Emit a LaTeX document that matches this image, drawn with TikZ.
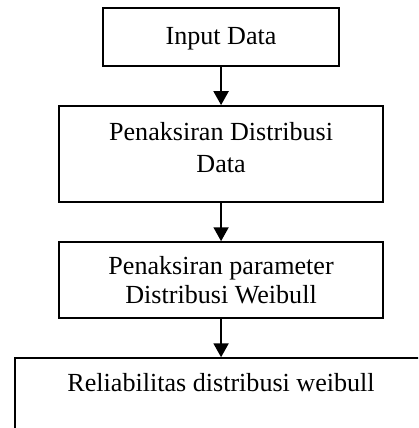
\documentclass[tikz,border=0pt]{standalone}
\usepackage{fontspec}
\setmainfont{Liberation Serif}
\usepackage{xcolor}
\usepackage{tikz}
\usetikzlibrary{arrows.meta,positioning}

\begin{document}
\begin{tikzpicture}[->,>={Triangle[length=6.4pt,width=6.9pt]},line width=0.9pt,node distance=17.5pt,font=\fontsize{12}{13}\selectfont]
  \tikzstyle{box}=[draw,rectangle,align=center,inner sep=2pt,minimum width=149pt]

  \useasboundingbox (0,0) rectangle (192.3pt,-196.9pt);
  \clip (0,0) rectangle (192.3pt,-196.9pt);

  \node[box,minimum width=108.6pt,minimum height=26.7pt,text height=9.5pt]	(input)	at (101.7pt,-17.05pt)	{Input Data};
  \node[box,minimum height=44.2pt,text depth=6pt]	(distdata)	[below=of input]	{Penaksiran Distribusi\\[1.6pt]Data};
  \node[box,minimum height=35pt]	(paramweibull)	[below=of distdata]	{Penaksiran parameter\\Distribusi Weibull};
  \node[box,minimum width=189.5pt,text height=8.2pt,text depth=40pt,inner ysep=7pt]	(reliab)	[below=of paramweibull]	{Reliabilitas distribusi weibull};

  \path	(input)	edge	(distdata)
		(distdata)	edge	(paramweibull)
		(paramweibull)	edge	(reliab);
\end{tikzpicture}
\end{document}
